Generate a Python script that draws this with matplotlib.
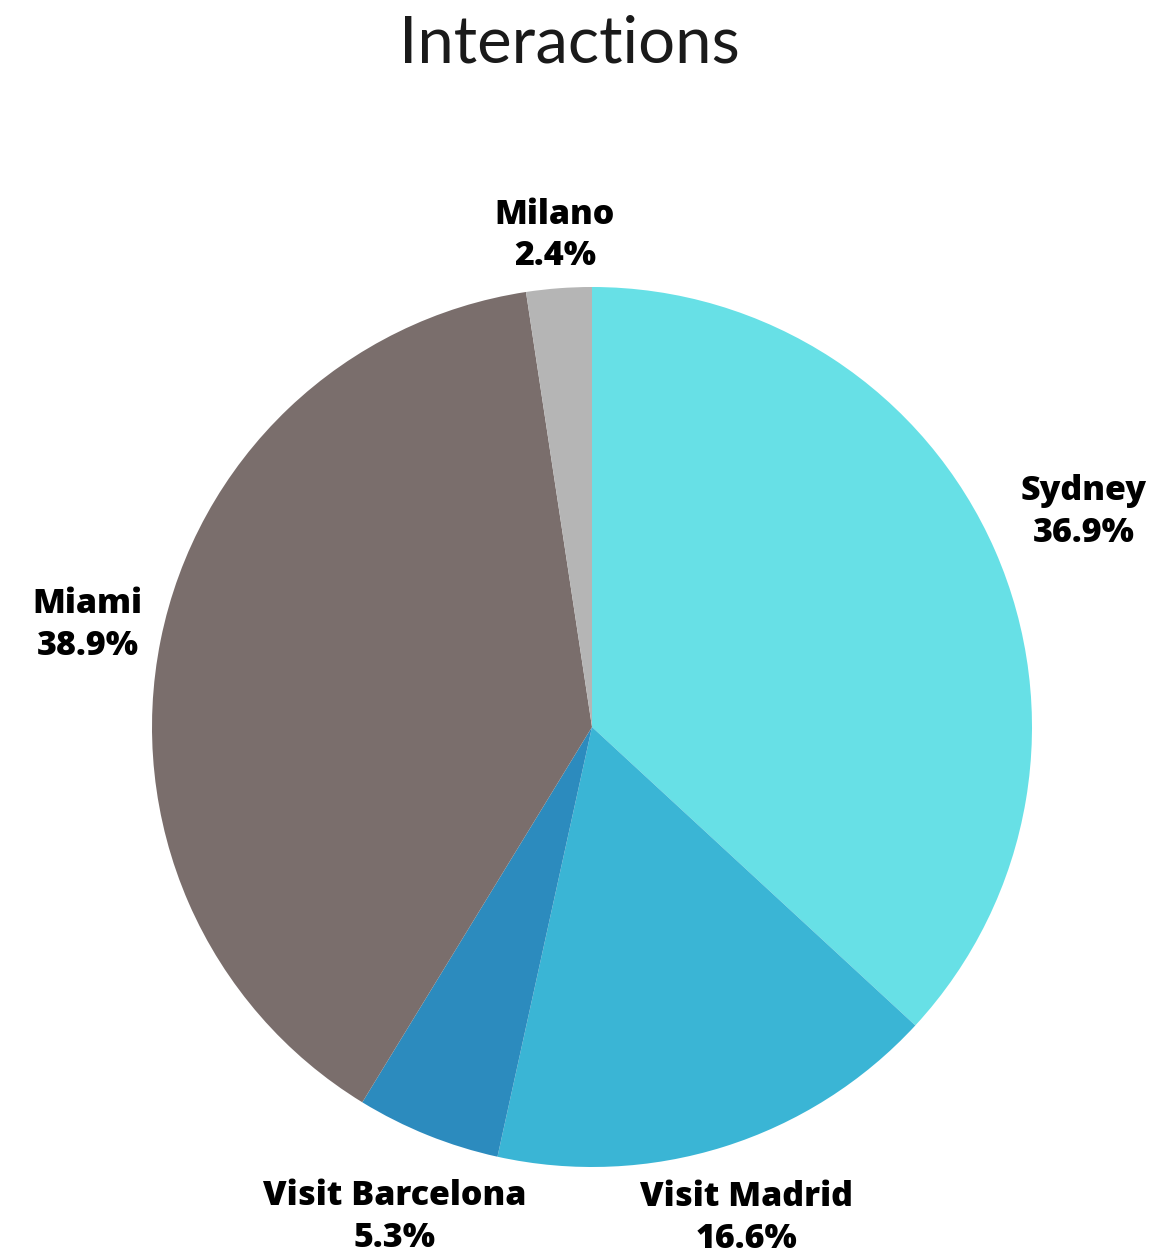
import matplotlib
matplotlib.use("Agg")
import matplotlib.pyplot as plt
import numpy as np

names = ["Sydney", "Visit Madrid", "Visit Barcelona", "Miami", "Milano"]
shares = [36.9, 16.6, 5.3, 38.9, 2.4]
colors = ["#67E0E6", "#3AB5D5", "#2C8BBE", "#7A6E6C", "#B5B5B5"]
# distance of each label from the centre, in radii
label_dist = [1.22, 1.17, 1.2, 1.17, 1.12]

W, H = 1153, 1257
cx, cy, r = 592, 727, 440

fig = plt.figure(figsize=(W / 100, H / 100), dpi=100)
ax = fig.add_axes([0, 0, 1, 1])
ax.axis("off")

labels = [f"{n}\n{s}%" for n, s in zip(names, shares)]
wedges, texts = ax.pie(shares, colors=colors, startangle=90, counterclock=False,
                       labels=labels, labeldistance=1.18, radius=1,
                       wedgeprops=dict(linewidth=0))
for w, t, d in zip(wedges, texts, label_dist):
    ang = np.deg2rad((w.theta1 + w.theta2) / 2)
    t.set_position((d * np.cos(ang), d * np.sin(ang)))
    t.set_ha("center")
    t.set_va("center")
    t.set_fontsize(24.5)
    t.set_fontweight("heavy")
    t.set_family("Open Sans")
    t.set_linespacing(1.3)

ax.set_aspect("auto")
ax.set_xlim(-cx / r, (W - cx) / r)
ax.set_ylim(-(H - cy) / r, cy / r)

fig.text(0.4935, 1 - 44 / H, "Interactions", ha="center", va="center",
         fontsize=47, family="Lato", color="#1a1a1a")

fig.savefig("out.png", dpi=100)
